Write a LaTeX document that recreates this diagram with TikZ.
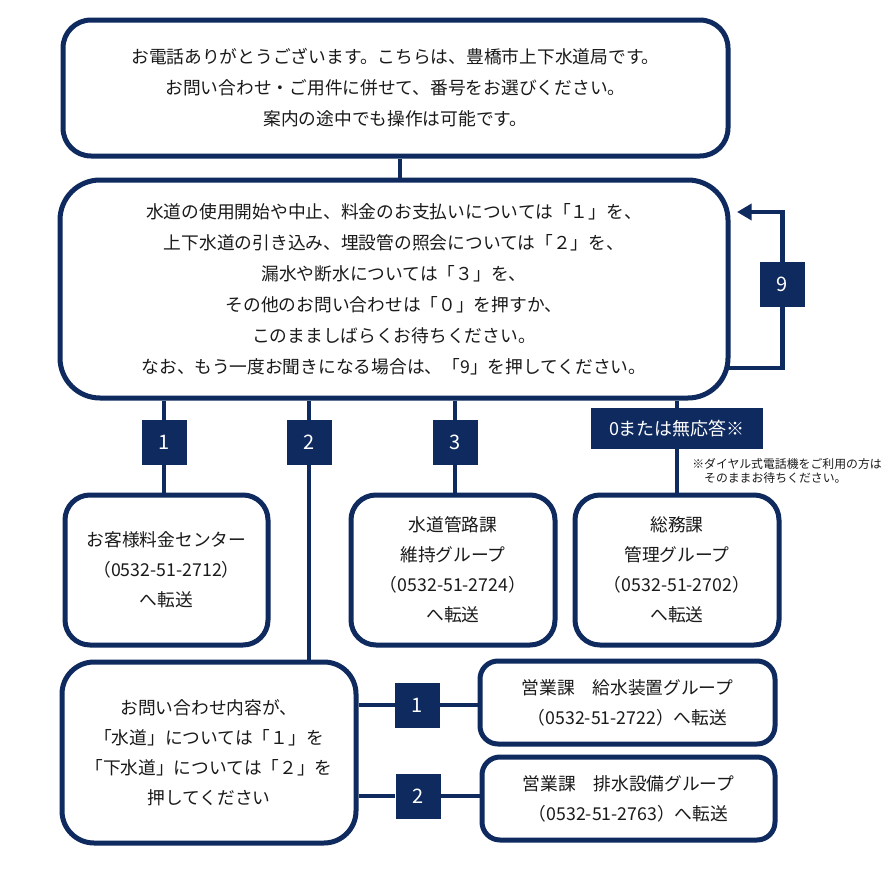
\documentclass[tikz,border=0pt]{standalone}
\usepackage{fontspec}
\setmainfont{Noto Sans CJK JP}
\usetikzlibrary{arrows.meta}
\definecolor{navy}{HTML}{0F2A5F}
\definecolor{ink}{HTML}{1A1A1A}
\tikzset{
  box/.style={draw=navy, line width=3.75pt, fill=white, align=center, inner sep=0pt,
    text=ink, font=\fontsize{13.3pt}{23.25pt}\selectfont},
  smallbox/.style={box, font=\fontsize{13.3pt}{22.5pt}\selectfont},
  numbox/.style={fill=navy, text=white, inner sep=0pt, minimum width=33.75pt, minimum height=33.75pt,
    font=\fontsize{15pt}{15pt}\selectfont},
  conn/.style={draw=navy, line width=3.3pt},
}
\begin{document}
\begin{tikzpicture}[x=0.75pt,y=-0.75pt]
\path[use as bounding box, fill=white] (0,0) rectangle (890,885);

% main boxes
\node[box, rounded corners=21pt, minimum width=498.75pt, minimum height=102pt] (A) at (395.5,88)
  {お電話ありがとうございます。こちらは、豊橋市上下水道局です。\\お問い合わせ・ご用件に併せて、番号をお選びください。\\案内の途中でも操作は可能です。};
\node[box, rounded corners=30pt, minimum width=501pt, minimum height=163.5pt] (B) at (394,289)
  {水道の使用開始や中止、料金のお支払いについては「１」を、\\上下水道の引き込み、埋設管の照会については「２」を、\\漏水や断水については「３」を、\\その他のお問い合わせは「０」を押すか、\\このまましばらくお待ちください。\\なお、もう一度お聞きになる場合は、「9」を押してください。};

\node[smallbox, rounded corners=18.75pt, minimum width=152.25pt, minimum height=112.5pt] (C) at (166.5,570)
  {お客様料金センター\\（0532-51-2712）\\へ転送};
\node[smallbox, rounded corners=18.75pt, minimum width=153pt, minimum height=112.5pt] (D) at (453,570)
  {水道管路課\\維持グループ\\（0532-51-2724）\\へ転送};
\node[smallbox, rounded corners=18.75pt, minimum width=153pt, minimum height=112.5pt] (E) at (677,570)
  {総務課\\管理グループ\\（0532-51-2702）\\へ転送};
\node[smallbox, rounded corners=24pt, minimum width=220.5pt, minimum height=135.75pt] (F) at (209,752.5)
  {お問い合わせ内容が、\\「水道」については「１」を\\「下水道」については「２」を\\押してください};
\node[smallbox, rounded corners=13.5pt, minimum width=221.25pt, minimum height=62.25pt] (G) at (627.5,702.5)
  {営業課　給水装置グループ\\（0532-51-2722）へ転送};
\node[smallbox, rounded corners=13.5pt, minimum width=219.75pt, minimum height=62.25pt] (H) at (628.5,798.5)
  {営業課　排水設備グループ\\（0532-51-2763）へ転送};

% number labels
\node[numbox] (l1) at (164,442.5) {1};
\node[numbox] (l2) at (309,442.5) {2};
\node[numbox] (l3) at (455,442.5) {3};
\node[numbox, minimum width=129pt, minimum height=30.75pt, font=\fontsize{13.5pt}{13.5pt}\selectfont] (l0) at (677,428.5) {0または無応答※};
\node[numbox] (l9) at (782.5,284.5) {9};
\node[numbox] (m1) at (417.5,705) {1};
\node[numbox] (m2) at (418,796) {2};

% note
\node[anchor=west, align=left, inner sep=0pt, text=ink, font=\fontsize{8.9pt}{10.5pt}\selectfont] (note) at (692,471)
  {※ダイヤル式電話機をご利用の方は\\　そのままお待ちください。};

% connectors
\coordinate (ab) at (400,168);
\draw[conn] (A.south -| ab) -- (B.north -| ab);
\draw[conn] (l1.north) -- (l1.north |- B.south);
\draw[conn] (l1.south) -- (l1.south |- C.north);
\draw[conn] (l2.north) -- (l2.north |- B.south);
\draw[conn] (l2.south) -- (l2.south |- F.north);
\draw[conn] (l3.north) -- (l3.north |- B.south);
\draw[conn] (l3.south) -- (l3.south |- D.north);
\draw[conn] (l0.north) -- (l0.north |- B.south);
\draw[conn] (l0.south) -- (l0.south |- E.north);
\coordinate (lb) at (729,368);
\coordinate (lt) at (737,212);
\draw[conn] (lb) -| (l9.south);
\draw[conn, -{Triangle[length=11pt,width=12pt]}] (l9.north) |- (lt);
\draw[conn] (F.east |- m1) -- (m1.west);
\draw[conn] (m1.east) -- (G.west |- m1);
\draw[conn] (F.east |- m2) -- (m2.west);
\draw[conn] (m2.east) -- (H.west |- m2);
\end{tikzpicture}
\end{document}
